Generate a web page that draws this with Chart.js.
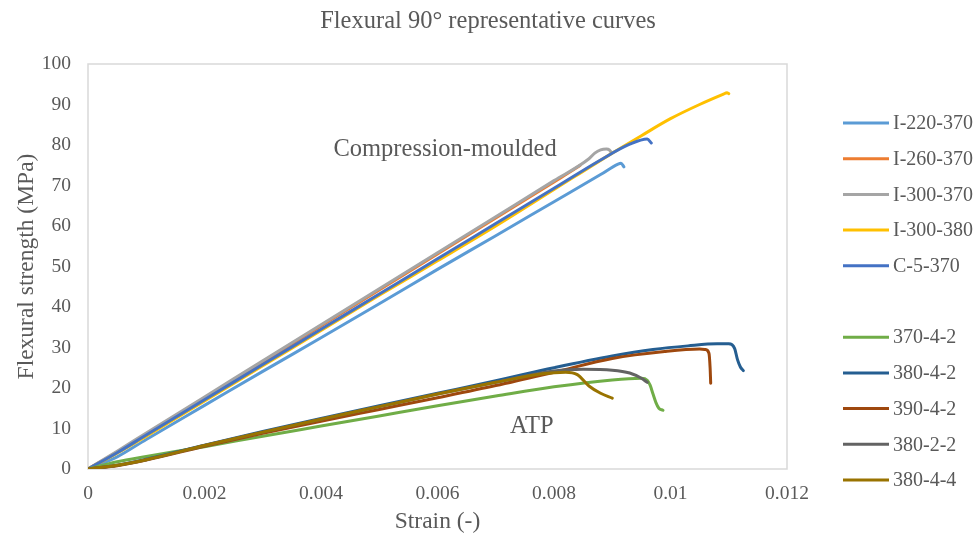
<!DOCTYPE html>
<html>
<head>
<meta charset="utf-8">
<script src="https://cdn.jsdelivr.net/npm/chart.js@4.4.1/dist/chart.umd.min.js"></script>
<style>
  html, body { margin: 0; padding: 0; background: #ffffff; }
  #wrap { width: 976px; height: 534px; }
</style>
</head>
<body>
<div id="wrap"><canvas id="c" width="976" height="534"></canvas></div>
<script>
// ---------- DATA ----------
const chartTitle = 'Flexural 90° representative curves';
const xAxisTitle = 'Strain (-)';
const yAxisTitle = 'Flexural strength (MPa)';
const xTickLabels = ['0', '0.002', '0.004', '0.006', '0.008', '0.01', '0.012'];
const yTickLabels = ['0', '10', '20', '30', '40', '50', '60', '70', '80', '90', '100'];
const seriesNames = ['I-220-370', 'I-260-370', 'I-300-370', 'I-300-380', 'C-5-370',
                     '370-4-2', '380-4-2', '390-4-2', '380-2-2', '380-4-4'];
const groupLabels = ['Compression-moulded', 'ATP'];

// Compression-moulded
const i220Strain = [0, 0.0005, 0.001, 0.002, 0.003, 0.004, 0.005, 0.006, 0.007, 0.008, 0.0088, 0.0091, 0.00915, 0.0092];
const i220Stress = [0, 3.0, 7.3, 15.7, 24.1, 32.4, 40.8, 49.3, 57.6, 66.0, 72.7, 75.3, 75.5, 74.6];

const i260Strain = [0, 0.0005, 0.001, 0.002, 0.003, 0.004, 0.005, 0.006, 0.007, 0.008, 0.0084, 0.00845];
const i260Stress = [0, 4.2, 8.6, 17.5, 26.4, 35.3, 44.2, 53.1, 62.0, 70.9, 74.5, 75.0];

const i300Strain = [0, 0.0005, 0.001, 0.002, 0.003, 0.004, 0.005, 0.006, 0.007, 0.008, 0.0086, 0.0087, 0.0088, 0.0089, 0.00895, 0.00898];
const i300Stress = [0, 4.4, 8.9, 17.8, 26.7, 35.6, 44.5, 53.4, 62.3, 71.2, 76.6, 78.0, 78.8, 79.0, 78.8, 78.2];

const i380Strain = [0, 0.0005, 0.001, 0.002, 0.003, 0.004, 0.005, 0.006, 0.007, 0.008, 0.009, 0.0095, 0.01, 0.0105, 0.0109, 0.01097, 0.011];
const i380Stress = [0, 3.9, 8.1, 16.8, 25.5, 34.2, 42.9, 51.4, 60.0, 69.0, 78.0, 82.3, 86.5, 90.0, 92.5, 92.9, 92.7];

const c5Strain = [0, 0.0005, 0.001, 0.002, 0.003, 0.004, 0.005, 0.006, 0.007, 0.008, 0.0088, 0.0093, 0.0096, 0.00967];
const c5Stress = [0, 4.0, 8.4, 17.1, 25.8, 34.5, 43.2, 51.9, 60.6, 69.3, 76.3, 80.2, 81.5, 80.5];

// ATP
const a370Strain = [0, 0.0005, 0.001, 0.002, 0.003, 0.004, 0.005, 0.006, 0.007, 0.008, 0.009, 0.0095, 0.0096, 0.00965, 0.0097, 0.00975, 0.0098, 0.00987];
const a370Stress = [0, 1.8, 3.1, 5.5, 8.1, 10.6, 13.1, 15.6, 18.0, 20.3, 22.0, 22.4, 21.9, 20.7, 18.5, 16.4, 15.0, 14.5];

const a380Strain = [0, 0.0005, 0.001, 0.002, 0.003, 0.004, 0.005, 0.006, 0.007, 0.008, 0.009, 0.0097, 0.0103, 0.0108, 0.011, 0.0111, 0.01115, 0.0112, 0.01125];
const a380Stress = [0, 0.9, 2.4, 5.9, 9.3, 12.5, 15.6, 18.7, 21.8, 25.0, 27.9, 29.5, 30.4, 30.9, 30.9, 29.8, 27.0, 25.2, 24.3];

const a390Strain = [0, 0.0005, 0.001, 0.002, 0.003, 0.004, 0.005, 0.006, 0.007, 0.008, 0.009, 0.0099, 0.0105, 0.0106, 0.01066, 0.01068, 0.01069];
const a390Stress = [0, 0.8, 2.2, 5.6, 8.8, 11.8, 14.7, 17.6, 20.6, 23.9, 27.3, 29.0, 29.6, 29.5, 28.6, 25.0, 21.2];

const a322Strain = [0, 0.0005, 0.001, 0.002, 0.003, 0.004, 0.005, 0.006, 0.007, 0.008, 0.0085, 0.009, 0.0093, 0.0095, 0.0096];
const a322Stress = [0, 0.9, 2.3, 5.8, 9.1, 12.3, 15.4, 18.5, 21.4, 24.2, 24.6, 24.4, 23.7, 22.4, 21.4];

const a344Strain = [0, 0.0005, 0.001, 0.002, 0.003, 0.004, 0.005, 0.006, 0.007, 0.0078, 0.0082, 0.0084, 0.0086, 0.0088, 0.009];
const a344Stress = [0, 0.9, 2.3, 5.8, 9.1, 12.3, 15.4, 18.5, 21.4, 23.5, 23.9, 23.3, 20.5, 18.7, 17.5];

// annotation anchor values (in data units)
const groupLabelStrain = [0.00613, 0.00762];
const groupLabelStress = [78.8, 10.4];

// ---------- STYLE ----------
const seriesColors = ['#5B9BD5', '#ED7D31', '#A5A5A5', '#FFC000', '#4472C4',
                      '#70AD47', '#255E91', '#9E480E', '#636363', '#997300'];
const textColor = '#595959';
const serif = "'Liberation Serif', 'Times New Roman', serif";

const strainSets = [i220Strain, i260Strain, i300Strain, i380Strain, c5Strain, a370Strain, a380Strain, a390Strain, a322Strain, a344Strain];
const stressSets = [i220Stress, i260Stress, i300Stress, i380Stress, c5Stress, a370Stress, a380Stress, a390Stress, a322Stress, a344Stress];

const datasets = seriesNames.map((name, i) => ({
  label: name,
  data: strainSets[i].map((x, k) => ({ x: x, y: stressSets[i][k] })),
  borderColor: seriesColors[i],
  backgroundColor: seriesColors[i],
  borderWidth: 3,
  pointRadius: 0,
  showLine: true,
  fill: false,
  cubicInterpolationMode: 'monotone',
  order: seriesNames.length - i
}));

const decorPlugin = {
  id: 'decor',
  beforeDatasetsDraw(chart) {
    const { ctx, chartArea: a } = chart;
    ctx.save();
    ctx.strokeStyle = '#d9d9d9';
    ctx.lineWidth = 1.5;
    ctx.strokeRect(a.left, a.top, a.right - a.left, a.bottom - a.top);
    ctx.restore();
  },
  afterDraw(chart) {
    const { ctx } = chart;
    ctx.save();
    ctx.fillStyle = textColor;
    ctx.textAlign = 'center';
    ctx.textBaseline = 'middle';
    // title
    ctx.font = '24.5px ' + serif;
    ctx.fillText(chartTitle, 488, 22);
    // group annotations
    const xs = chart.scales.x, ys = chart.scales.y;
    groupLabels.forEach((t, i) => {
      ctx.fillText(t, xs.getPixelForValue(groupLabelStrain[i]), ys.getPixelForValue(groupLabelStress[i]));
    });
    // legend (with a blank slot between the two groups, as in the reference)
    ctx.font = '20px ' + serif;
    ctx.textAlign = 'left';
    let y = 123;
    seriesNames.forEach((name, i) => {
      if (i === 5) y += 35.7;
      ctx.strokeStyle = seriesColors[i];
      ctx.lineWidth = 3;
      ctx.beginPath();
      ctx.moveTo(843, y);
      ctx.lineTo(889, y);
      ctx.stroke();
      ctx.fillText(name, 893, y + 1);
      y += 35.7;
    });
    ctx.restore();
  }
};

new Chart(document.getElementById('c'), {
  type: 'scatter',
  data: { datasets: datasets },
  options: {
    responsive: false,
    animation: false,
    devicePixelRatio: 1,
    layout: { padding: { top: 64, right: 189, left: 0, bottom: 0 } },
    plugins: { legend: { display: false }, title: { display: false }, tooltip: { enabled: false } },
    elements: { line: { borderCapStyle: 'round', borderJoinStyle: 'round' } },
    scales: {
      x: {
        type: 'linear',
        min: 0, max: 0.012,
        afterFit(s) { s.height = 65; },
        grid: { display: false, drawTicks: false },
        border: { display: false },
        ticks: {
          stepSize: 0.002,
          padding: 13,
          color: textColor,
          font: { family: serif, size: 19.5 },
          maxRotation: 0,
          autoSkip: false,
          callback: (v, i) => xTickLabels[i]
        },
        title: {
          display: true,
          text: xAxisTitle,
          color: textColor,
          font: { family: serif, size: 23.5, lineHeight: 1 },
          padding: { top: 0, bottom: 0 }
        }
      },
      y: {
        type: 'linear',
        min: 0, max: 100,
        afterFit(s) { s.width = 88; },
        grid: { display: false, drawTicks: false },
        border: { display: false },
        ticks: {
          stepSize: 10,
          padding: 17,
          color: textColor,
          font: { family: serif, size: 19.5 },
          autoSkip: false,
          callback: (v, i) => yTickLabels[i]
        },
        title: {
          display: true,
          text: yAxisTitle,
          color: textColor,
          font: { family: serif, size: 23.5, lineHeight: 1 },
          padding: { top: 15, bottom: 0 }
        }
      }
    }
  },
  plugins: [decorPlugin]
});
</script>
</body>
</html>
